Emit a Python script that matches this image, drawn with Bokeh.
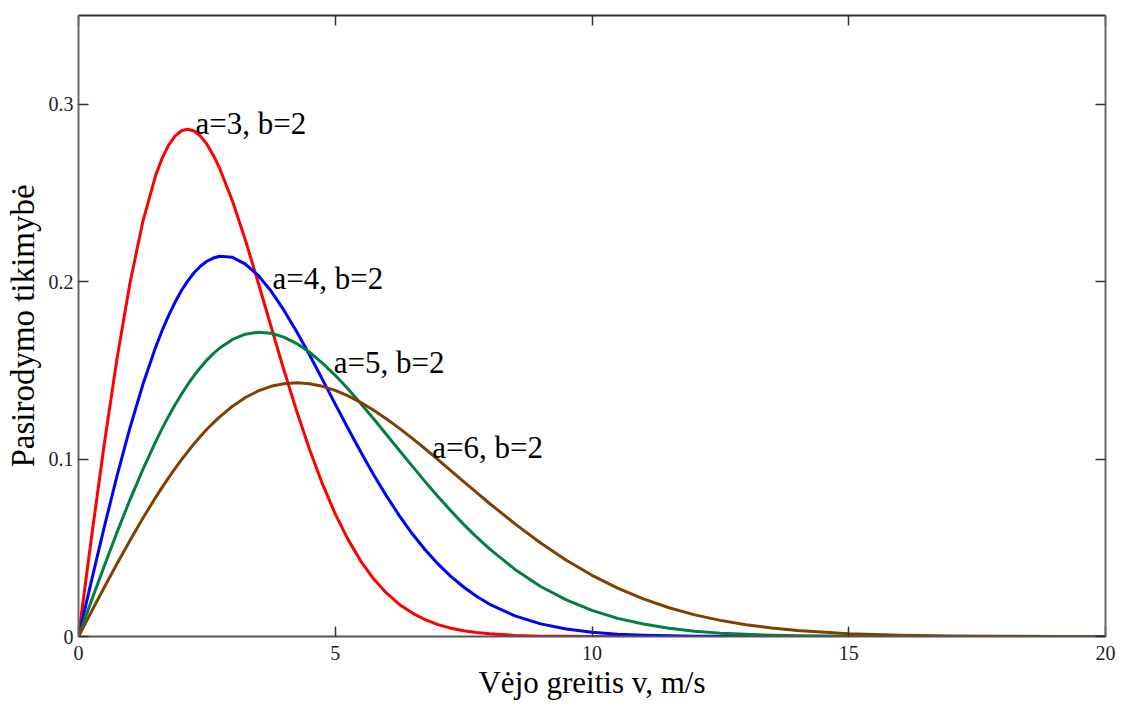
from bokeh.plotting import figure
from bokeh.models import LinearAxis, FixedTicker, Range1d, Label
from bokeh.embed import file_html
from bokeh.resources import INLINE

# wind speed grid (m/s)
v = [0, 0.25, 0.5, 0.75, 1, 1.25, 1.5, 1.625, 1.75, 1.875, 2, 2.125, 2.25, 2.375, 2.5, 2.625,
     2.75, 3, 3.25, 3.5, 3.75,
     4, 4.25, 4.5, 4.75, 5, 5.25, 5.5, 5.75, 6, 6.25, 6.5, 6.75, 7, 7.25, 7.5, 7.75,
     8, 8.5, 9, 9.5, 10, 10.5, 11, 11.5, 12, 12.5, 13, 13.5, 14, 15, 16, 17, 18, 19, 20]

p_a3 = [0, 0.0552, 0.1081, 0.1566, 0.1988, 0.2335, 0.2596, 0.2693, 0.2767, 0.2819, 0.2850, 0.2859,
        0.2849, 0.2820, 0.2775, 0.2713, 0.2638,
        0.2453, 0.2234, 0.1994, 0.1747, 0.1502, 0.1269, 0.1054, 0.0860, 0.0691, 0.0546, 0.0424,
        0.0324, 0.0244, 0.0181, 0.0132, 0.0095, 0.0067, 0.0047, 0.0032, 0.0022, 0.0015, 0.0006,
        0.0002, 0.0001, 0, 0, 0, 0, 0, 0, 0, 0, 0, 0, 0, 0, 0, 0, 0]

p_a4 = [0, 0.0311, 0.0615, 0.0905, 0.1174, 0.1417, 0.1629, 0.1722, 0.1806, 0.1881, 0.1947, 0.2003,
        0.2050, 0.2087, 0.2115, 0.2133, 0.2143,
        0.2137, 0.2099, 0.2035, 0.1947, 0.1839, 0.1718, 0.1587, 0.1449, 0.1310, 0.1172, 0.1038,
        0.0910, 0.0791, 0.0680, 0.0579, 0.0489, 0.0409, 0.0339, 0.0279, 0.0227, 0.0183, 0.0116,
        0.0071, 0.0042, 0.0024, 0.0013, 0.0007, 0.0004, 0.0002, 0.0001, 0.00004, 0.00002, 0.00001,
        0, 0, 0, 0, 0, 0]

p_a5 = [0, 0.0200, 0.0396, 0.0587, 0.0769, 0.0939, 0.1097, 0.1170, 0.1239, 0.1303, 0.1363, 0.1419,
        0.1470, 0.1516, 0.1558, 0.1594, 0.1626,
        0.1674, 0.1704, 0.1715, 0.1709, 0.1687, 0.1651, 0.1602, 0.1541, 0.1472, 0.1395, 0.1312,
        0.1226, 0.1137, 0.1048, 0.0960, 0.0873, 0.0789, 0.0709, 0.0632, 0.0561, 0.0495, 0.0378,
        0.0282, 0.0206, 0.0147, 0.0102, 0.0070, 0.0046, 0.0030, 0.0019, 0.0012, 0.0007, 0.0004,
        0.00015, 0.00005, 0.00001, 0, 0, 0]

p_a6 = [0, 0.0139, 0.0276, 0.0410, 0.0540, 0.0665, 0.0783, 0.0839, 0.0893, 0.0945, 0.0994, 0.1041,
        0.1086, 0.1128, 0.1168, 0.1204, 0.1238,
        0.1298, 0.1347, 0.1384, 0.1410, 0.1425, 0.1430, 0.1424, 0.1410, 0.1387, 0.1356, 0.1319,
        0.1275, 0.1226, 0.1173, 0.1117, 0.1058, 0.0997, 0.0935, 0.0873, 0.0812, 0.0751, 0.0635,
        0.0527, 0.0430, 0.0345, 0.0273, 0.0212, 0.0162, 0.0122, 0.0091, 0.0066, 0.0048, 0.0034,
        0.0016, 0.0007, 0.0003, 0.0001, 0.00005, 0.00002]

series = [p_a3, p_a4, p_a5, p_a6]
series_colors = ["#ff0000", "#0000ff", "#008040", "#804000"]
series_labels = ["a=3, b=2", "a=4, b=2", "a=5, b=2", "a=6, b=2"]
label_x = [2.28, 3.78, 4.97, 6.89]
label_y = [0.2893, 0.2019, 0.1545, 0.1066]

x_ticks = [0, 5, 10, 15, 20]
y_ticks = [0, 0.1, 0.2, 0.3]
x_title = "Vėjo greitis v, m/s"
y_title = "Pasirodymo tikimybė"

FONT = "Liberation Serif"

p = figure(width=1132, height=708, x_range=Range1d(0, 20), y_range=Range1d(0, 0.35),
           output_backend="svg", toolbar_location=None,
           x_axis_location=None, y_axis_location=None,
           min_border_left=78, min_border_right=27, min_border_top=15, min_border_bottom=72)
p.outline_line_color = None
p.grid.visible = False
p.background_fill_color = "white"
p.border_fill_color = "white"

def style_axis(ax, ticks, show_labels, line_color):
    ax.ticker = FixedTicker(ticks=ticks, minor_ticks=[])
    ax.major_tick_in = 10
    ax.major_tick_out = 0
    ax.minor_tick_in = 0
    ax.minor_tick_out = 0
    ax.major_tick_line_color = "#333333"
    ax.major_tick_line_width = 1.5
    ax.axis_line_color = line_color
    ax.axis_line_width = 2
    if show_labels:
        ax.major_label_text_font = FONT
        ax.major_label_text_font_size = "20px"
        ax.major_label_text_color = "#1c1c30"
    else:
        ax.major_label_text_font_size = "1px"
        ax.major_label_text_color = None
        ax.major_label_standoff = 0

xb = LinearAxis()
style_axis(xb, x_ticks, True, "#555555")
xb.major_label_standoff = 9
xb.axis_label = x_title
xb.axis_label_text_font = FONT
xb.axis_label_text_font_size = "31px"
xb.axis_label_text_font_style = "normal"
xb.axis_label_text_color = "#000000"
xb.axis_label_standoff = 2
p.add_layout(xb, "below")

yl = LinearAxis()
style_axis(yl, y_ticks, True, "#6a6a6a")
yl.major_label_standoff = 5
yl.major_label_overrides = {0: "0"}
yl.axis_label = y_title
yl.axis_label_text_font = FONT
yl.axis_label_text_font_size = "33px"
yl.axis_label_text_font_style = "normal"
yl.axis_label_text_color = "#000000"
yl.axis_label_standoff = 5
p.add_layout(yl, "left")

xt = LinearAxis()
style_axis(xt, x_ticks, False, "#333333")
p.add_layout(xt, "above")

yr = LinearAxis()
style_axis(yr, y_ticks, False, "#6a6a6a")
p.add_layout(yr, "right")

for ys, col in zip(series, series_colors):
    p.line(v, ys, line_color=col, line_width=3, line_join="round")

for lx, ly, txt in zip(label_x, label_y, series_labels):
    p.add_layout(Label(x=lx, y=ly, text=txt, text_font=FONT, text_font_size="31px",
                       text_color="#000000", text_baseline="alphabetic", text_align="left"))

open("out.html", "w").write(file_html(p, INLINE))
